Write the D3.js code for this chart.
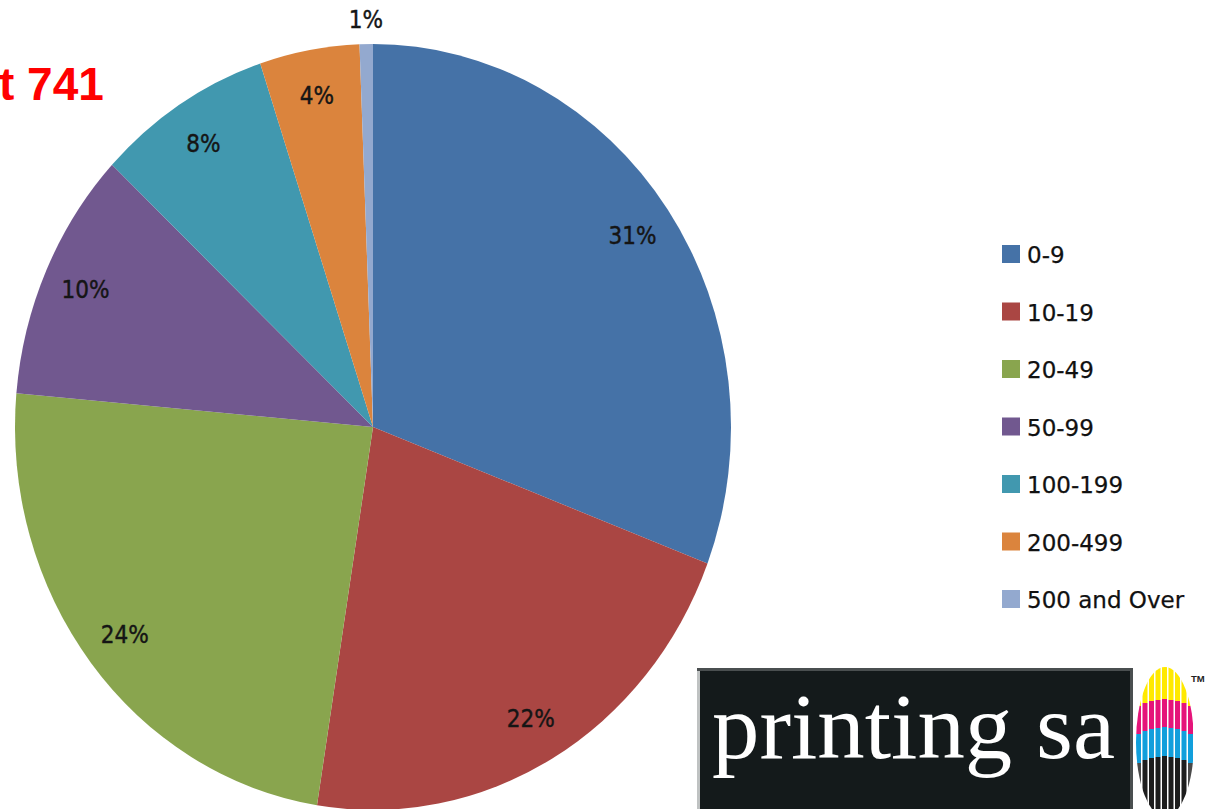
<!DOCTYPE html>
<html>
<head>
<meta charset="utf-8">
<script src="https://cdn.jsdelivr.net/npm/d3@7"></script>
<style>
  html, body { margin: 0; padding: 0; background: #ffffff; overflow: hidden; }
  svg { display: block; }
</style>
</head>
<body>
<script>
// ---- data ----
const categories = ["0-9", "10-19", "20-49", "50-99", "100-199", "200-499", "500 and Over"];
const shares = [30.8, 21.7, 23.9, 10.6, 7.9, 4.5, 0.6];
const shareLabels = ["31%", "22%", "24%", "10%", "8%", "4%", "1%"];
const colors = ["#4572A7", "#AA4643", "#89A54E", "#71588F", "#4198AF", "#DB843D", "#93A9CF"];
const titleText = "t 741";
const logoText = "printing sa";

const W = 1205, H = 809;
const svg = d3.select("body").append("svg").attr("width", W).attr("height", H);

// ---- pie (slightly stretched vertically like the reference) ----
const cx = 373, cy = 427, rx = 358, ry = 383;
const pie = d3.pie().value(d => d).sort(null).startAngle(0).endAngle(2 * Math.PI);
const arcs = pie(shares);
const arc = d3.arc().innerRadius(0).outerRadius(ry);

const g = svg.append("g").attr("transform", `translate(${cx},${cy}) scale(${rx / ry},1)`);
g.selectAll("path").data(arcs).enter().append("path")
  .attr("d", arc)
  .attr("fill", (d, i) => colors[i]);

// labels
svg.append("g").selectAll("text").data(arcs).enter().append("text")
  .attr("x", d => { const a = (d.startAngle + d.endAngle) / 2; const f = d.value < 2 ? 1.065 : 0.88; return cx + rx * f * Math.sin(a); })
  .attr("y", d => { const a = (d.startAngle + d.endAngle) / 2; const f = d.value < 2 ? 1.065 : 0.88; return cy - ry * f * Math.cos(a); })
  .attr("dy", "0.36em")
  .attr("text-anchor", "middle")
  .style("font-family", "'DejaVu Sans Condensed', 'DejaVu Sans', sans-serif")
  .style("font-stretch", "condensed")
  .style("font-size", "24px")
  .attr("fill", "#151515")
  .attr("stroke", "#151515")
  .attr("stroke-width", 0.4)
  .text((d, i) => shareLabels[i]);

// ---- title fragment ----
svg.append("text")
  .attr("x", -1).attr("y", 100)
  .style("font-family", "'Liberation Sans', Arial, sans-serif")
  .style("font-weight", "bold")
  .style("font-size", "46px")
  .attr("fill", "#ff0000")
  .text(titleText);

// ---- legend ----
const legend = svg.append("g");
const legY = d3.scalePoint().domain(categories).range([245, 590]);
const item = legend.selectAll("g").data(categories).enter().append("g")
  .attr("transform", d => `translate(1002,${legY(d)})`);
item.append("rect").attr("width", 18).attr("height", 18).attr("fill", (d, i) => colors[i]);
item.append("text")
  .attr("x", 25).attr("y", 18)
  .style("font-family", "'DejaVu Sans', sans-serif")
  .style("font-size", "23px")
  .attr("fill", "#111")
  .attr("stroke", "#111")
  .attr("stroke-width", 0.25)
  .text(d => d);

// ---- printing sa logo ----
const logo = svg.append("g");
logo.append("rect").attr("x", 697).attr("y", 668).attr("width", 436).attr("height", 145).attr("fill", "#4a4f50");
logo.append("rect").attr("x", 697).attr("y", 671).attr("width", 3).attr("height", 140).attr("fill", "#bfc2c2");
logo.append("rect").attr("x", 700).attr("y", 671).attr("width", 430).attr("height", 140).attr("fill", "#141a1b");
logo.append("text")
  .attr("x", 712).attr("y", 758)
  .attr("textLength", 403).attr("lengthAdjust", "spacingAndGlyphs")
  .style("font-family", "'Liberation Serif', 'DejaVu Serif', serif")
  .style("font-size", "94px")
  .attr("fill", "#ffffff")
  .text(logoText);

// CMYK striped oval
const defs = svg.append("defs");
defs.append("clipPath").attr("id", "oval").append("ellipse")
  .attr("cx", 1165).attr("cy", 742).attr("rx", 29).attr("ry", 75);
const cmyk = logo.append("g").attr("clip-path", "url(#oval)");
const stripeX = d3.range(9).map(i => 1136 + i * 6.5);
const bandShift = [6, 3, 1, 0, -1, 0, 1, 3, 6];
stripeX.forEach((x, i) => {
  const s = bandShift[i];
  const bands = [
    { y0: 660, y1: 700 + s, c: "#ffe900" },
    { y0: 700 + s, y1: 728 + s, c: "#e5147a" },
    { y0: 728 + s, y1: 757 + s, c: "#119fdc" },
    { y0: 757 + s, y1: 815, c: (i === 0 || i === 8) ? "#4a4a4a" : "#1e1e1e" }
  ];
  bands.forEach(b => {
    cmyk.append("rect").attr("x", x).attr("y", b.y0).attr("width", 5).attr("height", b.y1 - b.y0).attr("fill", b.c);
  });
});
logo.append("text")
  .attr("x", 1191).attr("y", 682)
  .style("font-family", "'Liberation Sans', Arial, sans-serif")
  .style("font-weight", "bold")
  .style("font-size", "9.5px")
  .attr("fill", "#222")
  .text("TM");
</script>
</body>
</html>
